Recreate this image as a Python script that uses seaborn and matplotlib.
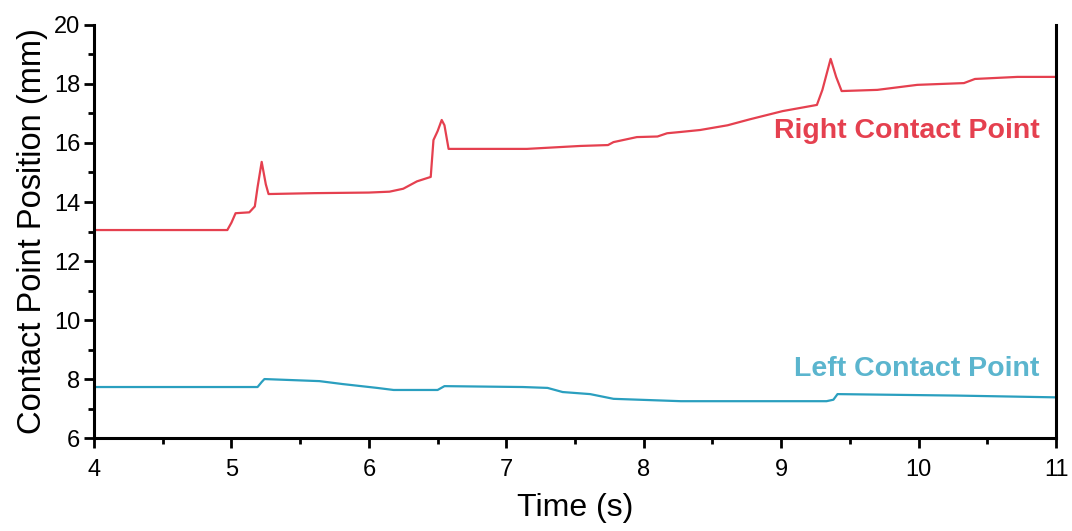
import matplotlib
matplotlib.use("Agg")
import matplotlib.pyplot as plt
from matplotlib.ticker import MultipleLocator
import seaborn as sns
import pandas as pd

# Right contact point trace (time in s, position in mm)
t_right = [4.0, 4.97, 5.0, 5.03, 5.13, 5.17, 5.19, 5.22, 5.25, 5.27, 5.6, 6.0,
           6.15, 6.25, 6.35, 6.45, 6.47, 6.50, 6.53, 6.55, 6.58, 7.15, 7.54,
           7.74, 7.78, 7.95, 8.1, 8.17, 8.26, 8.41, 8.61, 8.77, 9.01, 9.26,
           9.30, 9.36, 9.40, 9.44, 9.70, 9.99, 10.33, 10.41, 10.72, 11.0]
pos_right = [13.05, 13.05, 13.3, 13.62, 13.65, 13.85, 14.5, 15.36, 14.6, 14.27,
             14.3, 14.32, 14.35, 14.45, 14.7, 14.85, 16.1, 16.4, 16.78, 16.6,
             15.8, 15.8, 15.9, 15.93, 16.03, 16.2, 16.22, 16.33, 16.37, 16.44,
             16.6, 16.8, 17.08, 17.29, 17.8, 18.85, 18.24, 17.76, 17.8, 17.97,
             18.03, 18.17, 18.24, 18.24]

# Left contact point trace
t_left = [4.0, 5.19, 5.22, 5.24, 5.64, 5.81, 6.06, 6.18, 6.50, 6.55, 7.12,
          7.30, 7.41, 7.61, 7.78, 8.27, 9.33, 9.38, 9.41, 10.28, 11.0]
pos_left = [7.73, 7.73, 7.9, 8.0, 7.93, 7.83, 7.7, 7.63, 7.63, 7.76, 7.73,
            7.7, 7.56, 7.49, 7.33, 7.25, 7.25, 7.3, 7.49, 7.44, 7.38]

labels = ["Right Contact Point", "Left Contact Point"]
line_colors = ["#E5404F", "#2A9FBF"]
text_colors = ["#E5404F", "#5BB5CE"]

df = pd.concat([
    pd.DataFrame({"Time": t_right, "Position": pos_right, "Point": labels[0]}),
    pd.DataFrame({"Time": t_left, "Position": pos_left, "Point": labels[1]}),
])

sns.set_style("ticks")
plt.rcParams["font.family"] = ["Liberation Sans", "DejaVu Sans"]
for key in ["text.color", "axes.labelcolor", "xtick.color", "ytick.color"]:
    plt.rcParams[key] = "black"

fig = plt.figure(figsize=(10.72, 5.31), dpi=100)
ax = fig.add_axes([0.0877, 0.175, 0.8974, 0.778])

sns.lineplot(data=df, x="Time", y="Position", hue="Point",
             palette=dict(zip(labels, line_colors)), linewidth=1.6,
             legend=False, ax=ax, sort=False, estimator=None)

ax.set_xlim(4, 11)
ax.set_ylim(6, 20)
ax.xaxis.set_major_locator(MultipleLocator(1))
ax.xaxis.set_minor_locator(MultipleLocator(0.5))
ax.yaxis.set_major_locator(MultipleLocator(2))
ax.yaxis.set_minor_locator(MultipleLocator(1))
ax.tick_params(which="major", direction="out", length=7, width=2,
               labelsize=17, color="black")
ax.tick_params(which="minor", direction="out", length=4, width=2, color="black")
ax.tick_params(axis="x", pad=8)
ax.tick_params(axis="y", pad=3)

for side in ["left", "bottom", "right"]:
    ax.spines[side].set_linewidth(2.2)
    ax.spines[side].set_color("black")
ax.spines["top"].set_visible(False)

ax.set_xlabel("Time (s)", fontsize=23, labelpad=9)
ax.set_ylabel("Contact Point Position (mm)", fontsize=23.5, labelpad=4)

ax.text(10.88, 16.4, labels[0], color=text_colors[0], fontsize=20.5,
        fontweight="bold", ha="right", va="center")
ax.text(10.88, 8.35, labels[1], color=text_colors[1], fontsize=20.5,
        fontweight="bold", ha="right", va="center")

fig.savefig("out.png", dpi=100)
